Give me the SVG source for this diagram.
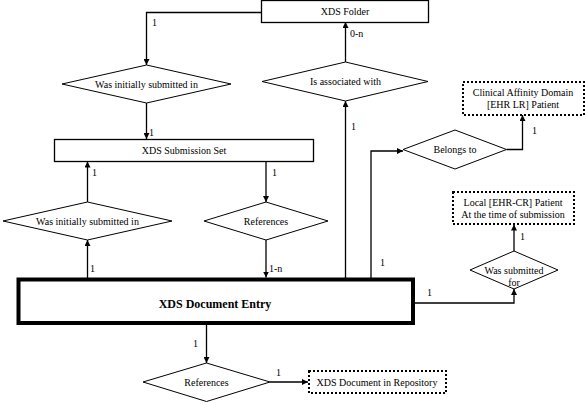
<svg xmlns="http://www.w3.org/2000/svg" width="585" height="404" viewBox="0 0 585 404">
<style>
.box{fill:#fff;stroke:#000;stroke-width:1.3}
.main{fill:#fff;stroke:#000;stroke-width:4}
.dot{fill:#fff;stroke:#000;stroke-width:2;stroke-dasharray:2 2}
.dia{fill:#fff;stroke:#000;stroke-width:1}
.t{font-family:"Liberation Serif","Times New Roman",serif;font-size:10px;fill:#000;text-anchor:middle}
.lbl{font-family:"Liberation Serif","Times New Roman",serif;font-size:10px;fill:#000}
.bold{font-family:"Liberation Serif","Times New Roman",serif;font-size:12px;font-weight:bold;fill:#000;text-anchor:middle}
.c{fill:none;stroke:#000;stroke-width:1.3}
</style>
<defs>
<marker id="ah" viewBox="0 0 6 6" refX="6" refY="3" markerWidth="6" markerHeight="6" markerUnits="userSpaceOnUse" orient="auto">
<path d="M0,0 L6,3 L0,6 Z" fill="#000"/>
</marker>
</defs>
<rect width="585" height="404" fill="#fff"/>
<g id="connectors">
<path class="c" d="M261,12.5 H146.5 V65" marker-end="url(#ah)"/>
<path class="c" d="M146.5,103 V139" marker-end="url(#ah)"/>
<path class="c" d="M266,161.5 V202" marker-end="url(#ah)"/>
<path class="c" d="M87.5,202 V161.5" marker-end="url(#ah)"/>
<path class="c" d="M87.5,278 V240" marker-end="url(#ah)"/>
<path class="c" d="M266,240 V277.5" marker-end="url(#ah)"/>
<path class="c" d="M345.5,278 V101" marker-end="url(#ah)"/>
<path class="c" d="M345.5,62 V22" marker-end="url(#ah)"/>
<path class="c" d="M371,278 V151 H403" marker-end="url(#ah)"/>
<path class="c" d="M506.5,149.5 H522.5 V115" marker-end="url(#ah)"/>
<path class="c" d="M415,303 H514 V289" marker-end="url(#ah)"/>
<path class="c" d="M514,251 V224.5" marker-end="url(#ah)"/>
<path class="c" d="M206.5,325 V363" marker-end="url(#ah)"/>
<path class="c" d="M270,382 H308" marker-end="url(#ah)"/>
<text class="lbl" x="152" y="26">1</text>
<text class="lbl" x="149" y="136">1</text>
<text class="lbl" x="92" y="176">1</text>
<text class="lbl" x="272" y="176">1</text>
<text class="lbl" x="90" y="272">1</text>
<text class="lbl" x="269" y="272">1-n</text>
<text class="lbl" x="350" y="37">0-n</text>
<text class="lbl" x="351" y="130">1</text>
<text class="lbl" x="380" y="266">1</text>
<text class="lbl" x="532" y="134">1</text>
<text class="lbl" x="520" y="240">1</text>
<text class="lbl" x="427" y="296">1</text>
<text class="lbl" x="193" y="347">1</text>
<text class="lbl" x="276" y="376">1</text>
</g>
<g id="folder">
<rect class="box" x="261.5" y="0.5" width="167" height="22"/>
<text class="t" x="345" y="15">XDS Folder</text>
</g>
<g id="d-initially-top">
<polygon class="dia" points="62,84 146.5,65 231,84 146.5,103"/>
<text class="t" x="146.5" y="88">Was initially submitted in</text>
</g>
<g id="submission-set">
<rect class="box" x="54.5" y="139.5" width="259" height="22"/>
<text class="t" x="184" y="154">XDS Submission Set</text>
</g>
<g id="d-associated">
<polygon class="dia" points="262,81.5 345.5,62 428,81.5 345.5,101"/>
<text class="t" x="345.5" y="85">Is associated with</text>
</g>
<g id="clinical">
<rect class="dot" x="463" y="82" width="121" height="33"/>
<text class="t" x="523" y="96">Clinical Affinity Domain</text>
<text class="t" x="523" y="108">[EHR LR] Patient</text>
</g>
<g id="d-belongs">
<polygon class="dia" points="403,149.5 455,130 506.5,149.5 455,169"/>
<text class="t" x="455" y="153">Belongs to</text>
</g>
<g id="d-initially-bottom">
<polygon class="dia" points="3,221 87.5,202 172,221 87.5,240"/>
<text class="t" x="87.5" y="225">Was initially submitted in</text>
</g>
<g id="d-references-mid">
<polygon class="dia" points="204,221 266,202 328,221 266,240"/>
<text class="t" x="266" y="225">References</text>
</g>
<g id="local">
<rect class="dot" x="453" y="192" width="121" height="32"/>
<text class="t" x="513" y="206">Local [EHR-CR] Patient</text>
<text class="t" x="513" y="218">At the time of submission</text>
</g>
<g id="d-submitted-for">
<polygon class="dia" points="470,270 514,251 558,270 514,289"/>
<text class="t" x="514" y="274">Was submitted</text>
<text class="t" x="514" y="286">for</text>
</g>
<g id="doc-entry">
<rect class="main" x="18.5" y="279.5" width="394.5" height="43.5"/>
<text class="bold" x="215" y="308">XDS Document Entry</text>
</g>
<g id="d-references-bottom">
<polygon class="dia" points="143,382 206.5,363 270,382 206.5,401.5"/>
<text class="t" x="206.5" y="386">References</text>
</g>
<g id="repository">
<rect class="dot" x="309" y="371" width="137" height="22"/>
<text class="t" x="377" y="386">XDS Document in Repository</text>
</g>
</svg>
